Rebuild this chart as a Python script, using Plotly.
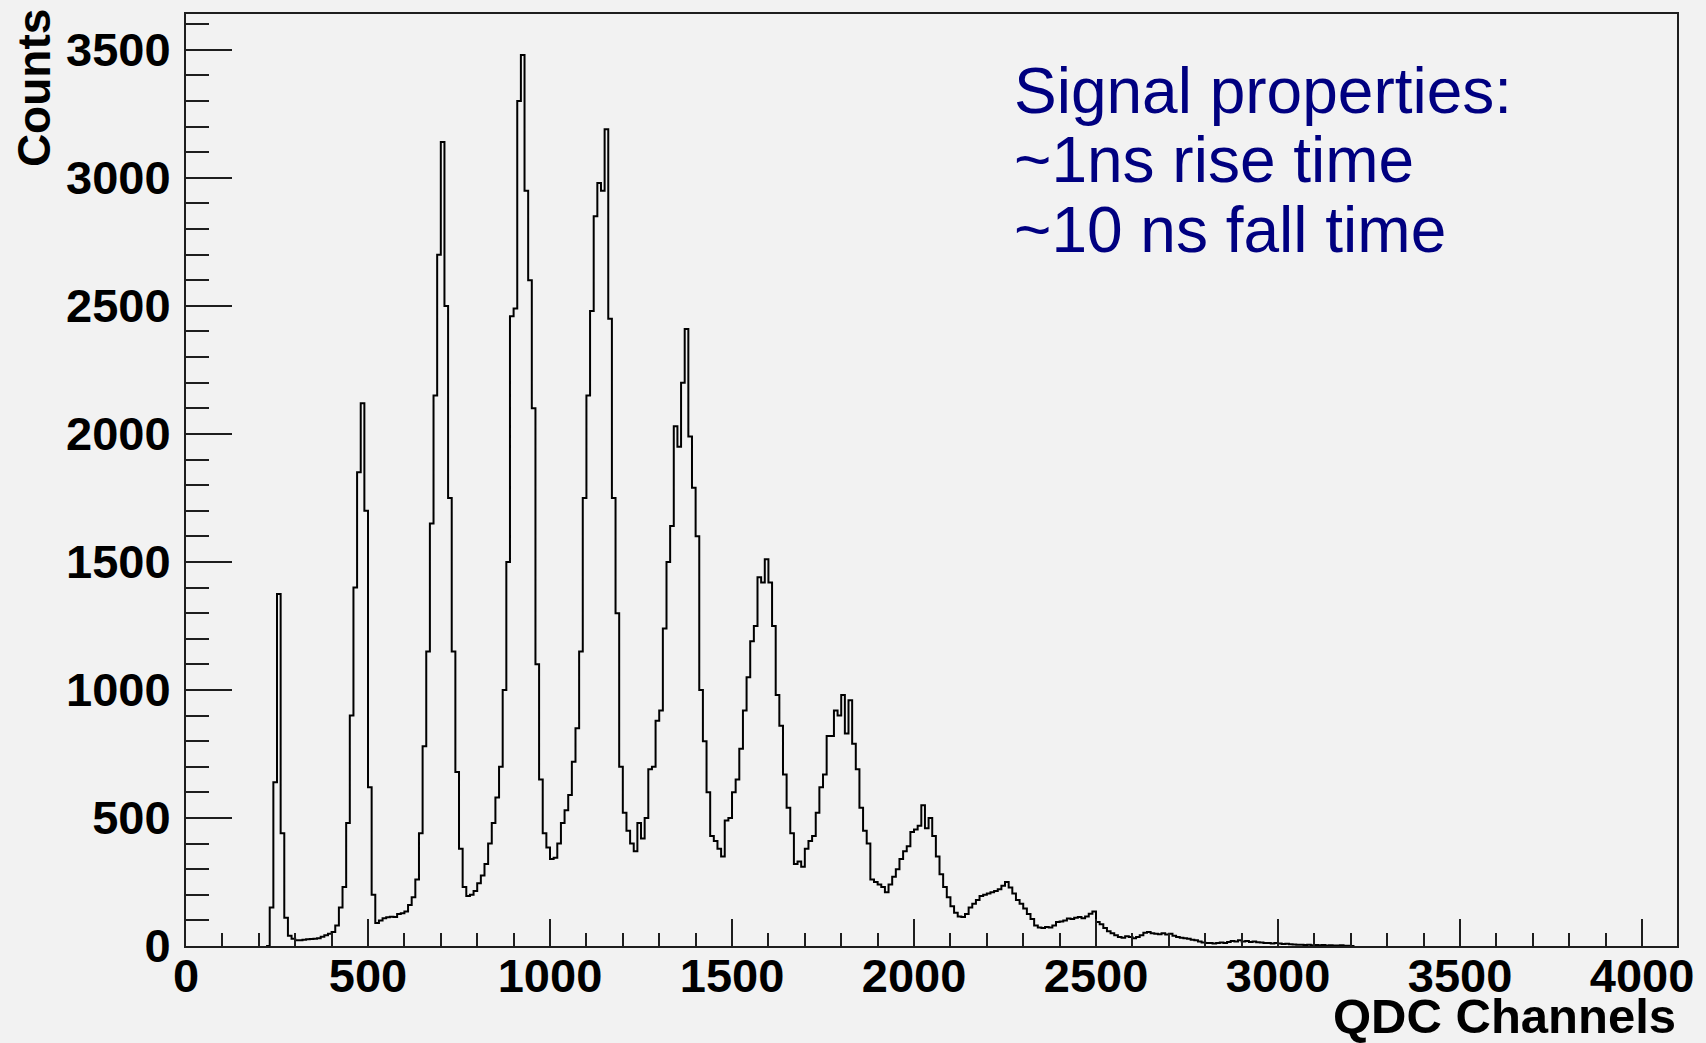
import numpy as np
import plotly.graph_objects as go

# Histogram: QDC spectrum, bin width 10 channels starting at channel 220
bin_width = 10
first_edge = 220

counts_220_600 = [0, 150, 640, 1375, 440, 110, 40, 28, 22, 22,
                  24, 26, 27, 28, 30, 36, 42, 48, 55, 80,
                  150, 230, 480, 900, 1400, 1850, 2120, 1700, 620, 200,
                  90, 100, 108, 112, 114, 113, 125, 128]
counts_600_1210 = [135, 160, 190, 260, 440, 780, 1150, 1650, 2150, 2700,
                   3140, 2500, 1750, 1150, 680, 380, 230, 195, 200, 215,
                   245, 275, 320, 400, 480, 580, 700, 1000, 1500, 2460,
                   2490, 3300, 3480, 2950, 2600, 2100, 1100, 650, 440, 385,
                   340, 345, 400, 480, 530, 590, 720, 850, 1150, 1750,
                   2150, 2480, 2850, 2980, 2950, 3190, 2450, 1750, 1300, 700,
                   520, 450]
counts_1220_2300 = [400, 370, 480, 420, 500, 690, 700, 880, 920, 1240,
                    1500, 1640, 2030, 1950, 2200, 2410, 1990, 1790, 1600, 1000,
                    800, 600, 430, 410, 380, 350, 490, 500, 600, 650,
                    770, 920, 1050, 1190, 1250, 1440, 1420, 1510, 1420, 1250,
                    980, 860, 670, 540, 440, 320, 330, 310, 380, 410,
                    430, 520, 620, 670, 820, 820, 920, 900, 980, 830,
                    960, 790, 690, 540, 450, 400, 260, 250, 240, 230,
                    210, 240, 270, 300, 340, 370, 390, 445, 455, 470,
                    550, 460, 500, 430, 350, 280, 230, 190, 155, 130,
                    115, 113, 125, 150, 165, 180, 195, 200, 205, 210,
                    215, 222, 235, 250, 228, 205, 180, 165]
counts_2300_3200 = [146, 125, 105, 80, 72, 70, 74, 72, 80, 94,
                    96, 100, 107, 105, 110, 113, 108, 115, 126, 135,
                    94, 85, 70, 58, 50, 42, 35, 32, 38, 35,
                    30, 35, 42, 52, 55, 50, 48, 46, 50, 45,
                    48, 40, 35, 32, 30, 28, 24, 22, 18, 14,
                    12, 12, 10, 12, 14, 12, 16, 20, 18, 22,
                    18, 20, 16, 18, 15, 14, 12, 12, 10, 12,
                    10, 8, 9, 7, 6, 5, 5, 4, 5, 3,
                    4, 3, 4, 2, 3, 2, 2, 3, 1, 1, 0]

counts = counts_220_600 + counts_600_1210 + counts_1220_2300 + counts_2300_3200
edges = first_edge + bin_width * np.arange(len(counts) + 1)
ys = counts + [counts[-1]]

x_tick_vals = [0, 500, 1000, 1500, 2000, 2500, 3000, 3500, 4000]
y_tick_vals = [0, 500, 1000, 1500, 2000, 2500, 3000, 3500]

x_title = "QDC Channels"
y_title = "Counts"
note_lines = ["Signal properties:", "~1ns rise time", "~10 ns fall time"]

BG = "#f2f2f2"
FRAME = "#1e1e1e"
FONT = "Liberation Sans"

fig = go.Figure()
fig.add_trace(go.Scatter(
    x=edges, y=ys, mode="lines", line_shape="hv",
    line=dict(color="black", width=2), hoverinfo="skip", showlegend=False,
))

W, H = 1706, 1043
L, R, T, B = 186, 28, 12, 97

axis_common = dict(
    showgrid=False, zeroline=False, showline=True, linecolor=FRAME, linewidth=2,
    mirror=True, ticks="inside", tickcolor=FRAME, tickwidth=2,
    tickfont=dict(family=FONT, size=47, color="black", weight="bold"),
)

fig.update_xaxes(
    range=[0, 4096], tickvals=x_tick_vals, ticklen=27,
    minor=dict(dtick=100, tick0=0, ticks="inside", ticklen=13, tickwidth=2, tickcolor=FRAME, showgrid=False),
    ticklabelstandoff=-12,
    **axis_common,
)
fig.update_yaxes(
    range=[0, 3640], tickvals=y_tick_vals, ticklen=46,
    minor=dict(dtick=100, tick0=0, ticks="inside", ticklen=23, tickwidth=2, tickcolor=FRAME, showgrid=False),
    ticklabelstandoff=4,
    **axis_common,
)

pw, ph = W - L - R, H - T - B
def px(xp):
    return (xp - L) / pw
def py(yp):
    return (H - B - yp) / ph

annotations = [
    dict(text=y_title, textangle=-90, x=px(34), y=py(5), xref="paper", yref="paper",
         xanchor="center", yanchor="top", showarrow=False,
         font=dict(family=FONT, size=46, color="black", weight="bold")),
    dict(text=x_title, x=1.0, y=py(1044), xref="paper", yref="paper",
         xanchor="right", yanchor="bottom", showarrow=False, borderpad=0,
         font=dict(family=FONT, size=49, color="black", weight="bold")),
]
for line, bottom in zip(note_lines, [127, 196, 267]):
    annotations.append(dict(text=line, x=px(1013), y=py(bottom), xref="paper", yref="paper",
                            xanchor="left", yanchor="bottom", showarrow=False,
                            font=dict(family=FONT, size=64, color="#000080")))

fig.update_layout(
    width=W, height=H, margin=dict(l=L, r=R, t=T, b=B),
    paper_bgcolor=BG, plot_bgcolor=BG, annotations=annotations,
)

fig.write_html("out.html")
